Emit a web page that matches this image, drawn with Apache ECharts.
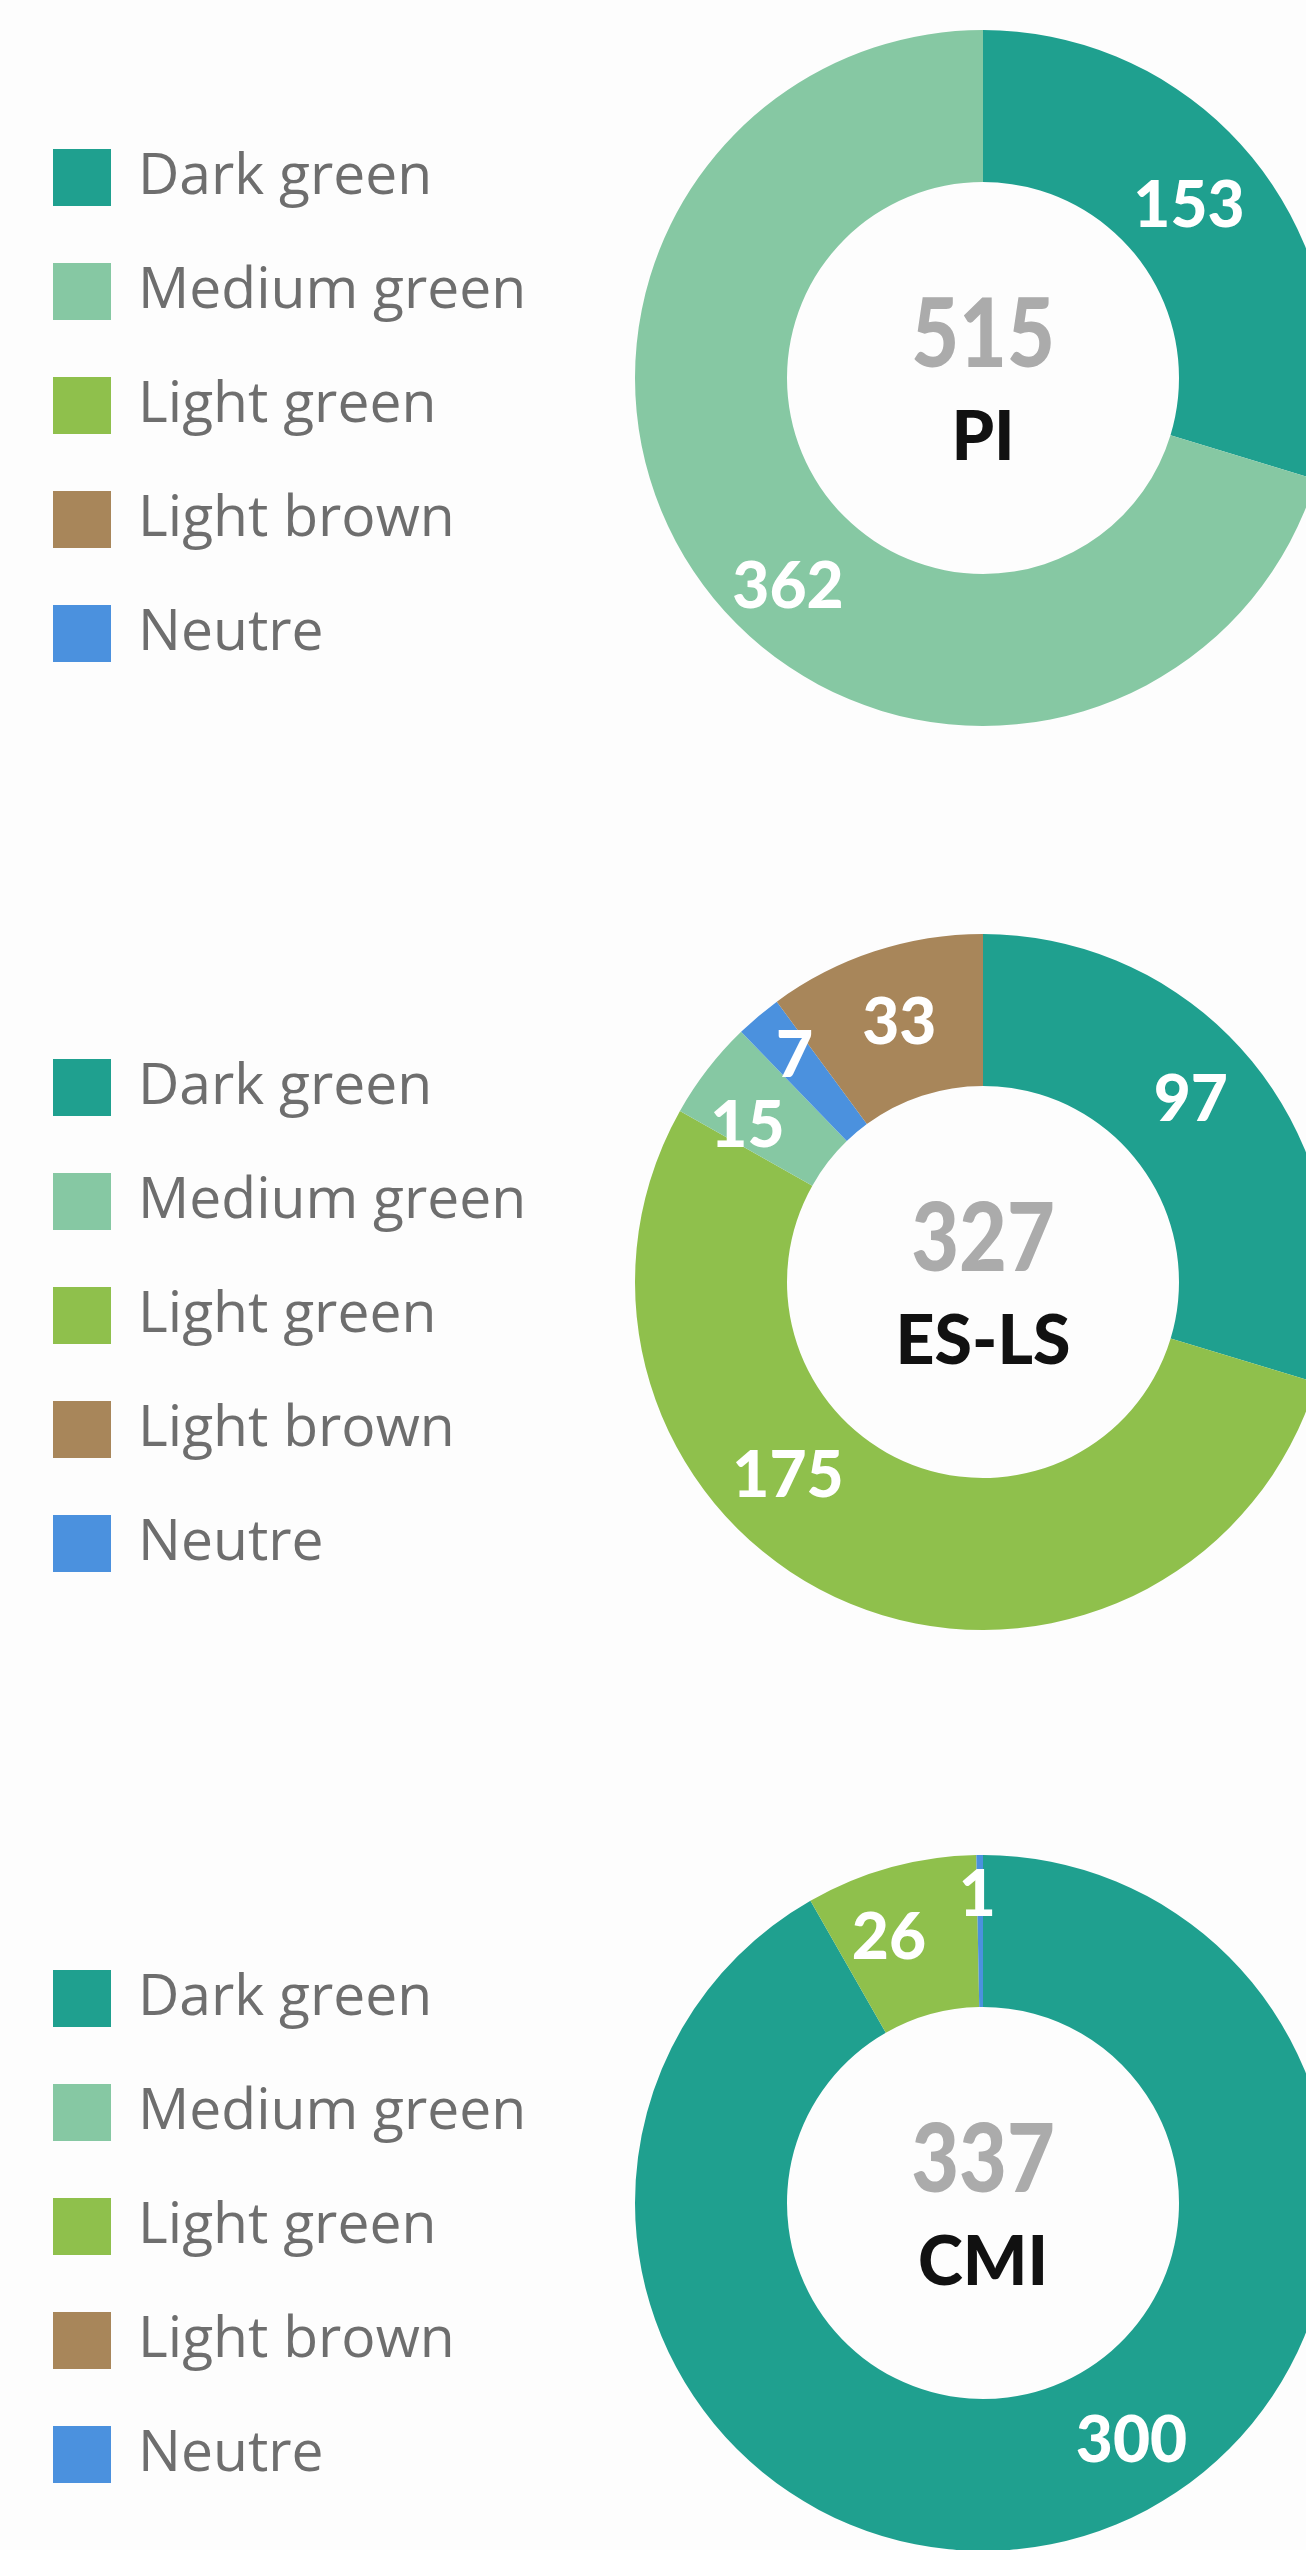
<!DOCTYPE html>
<html>
<head>
<meta charset="utf-8">
<script src="https://cdn.jsdelivr.net/npm/echarts@6/dist/echarts.min.js"></script>
<style>
  html, body { margin: 0; padding: 0; background: #fdfdfd; }
  #chart { width: 1306px; height: 2550px; }
</style>
</head>
<body>
<div id="chart"></div>
<script>
// ---- data (clockwise order from 12 o'clock) ----
const categories = ['Dark green', 'Light green', 'Medium green', 'Neutre', 'Light brown'];
const legendOrder = ['Dark green', 'Medium green', 'Light green', 'Light brown', 'Neutre'];
const chartNames = ['PI', 'ES-LS', 'CMI'];
const totals = [515, 327, 337];
const piValues = [153, 0, 362, 0, 0];
const eslsValues = [97, 175, 15, 7, 33];
const cmiValues = [300, 26, 0, 1, 0];
const allValues = [piValues, eslsValues, cmiValues];

// ---- styling ----
const colors = {
  'Dark green': '#1fa08f',
  'Medium green': '#86c8a3',
  'Light green': '#8fc04c',
  'Light brown': '#a8865a',
  'Neutre': '#4b91de'
};
const centersY = [378, 1282, 2203];
const centerX = 983;
const legendTops = [141, 1051, 1962];
// label nudges (pixels) per chart / category
const labelNudge = [
  { 'Dark green': [-15, -8], 'Medium green': [26, 46] },
  { 'Dark green': [-13, -18], 'Light green': [-87, -59], 'Medium green': [-18, 13], 'Neutre': [-11, -16], 'Light brown': [2, 3] },
  { 'Dark green': [78, -27], 'Light green': [-21, 0], 'Neutre': [-3, -33] }
];

const series = allValues.map((vals, i) => ({
  type: 'pie',
  center: [centerX, centersY[i]],
  radius: [196, 348],
  startAngle: 90,
  clockwise: true,
  avoidLabelOverlap: false,
  silent: true,
  label: {
    show: true,
    position: 'inside',
    formatter: '{c}',
    color: '#ffffff',
    fontFamily: 'Lato',
    fontWeight: 900,
    fontSize: 64
  },
  labelLine: { show: false },
  data: categories.map((name, k) => ({ name, value: vals[k] }))
    .filter(d => d.value > 0)
    .map(d => {
      const item = { name: d.name, value: d.value, itemStyle: { color: colors[d.name] } };
      const nud = labelNudge[i][d.name];
      if (nud) item.label = { offset: nud };
      return item;
    })
}));

const legends = legendTops.map(top => ({
  orient: 'vertical',
  left: 48,
  top: top,
  icon: 'rect',
  itemWidth: 58,
  itemHeight: 57,
  itemGap: 51,
  selectedMode: false,
  data: legendOrder,
  textStyle: {
    fontFamily: 'Open Sans',
    fontSize: 57,
    color: '#6e6e6e',
    lineHeight: 57,
    padding: [6, 0, 0, 22]
  }
}));

const graphics = [];
chartNames.forEach((nm, i) => {
  graphics.push({
    type: 'text',
    x: centerX, y: centersY[i] - 42,
    scaleX: 0.86,
    silent: true,
    style: {
      text: String(totals[i]),
      font: '900 96px Lato',
      fill: '#ababab',
      textAlign: 'center',
      textVerticalAlign: 'middle'
    }
  });
  graphics.push({
    type: 'text',
    x: centerX, y: centersY[i] + 60,
    silent: true,
    style: {
      text: nm,
      font: '900 68px Lato',
      fill: '#111111',
      textAlign: 'center',
      textVerticalAlign: 'middle'
    }
  });
});

const chart = echarts.init(document.getElementById('chart'), null, { renderer: 'canvas' });
chart.setOption({
  backgroundColor: '#fdfdfd',
  animation: false,
  legend: legends,
  series: series,
  graphic: graphics
});
</script>
</body>
</html>
